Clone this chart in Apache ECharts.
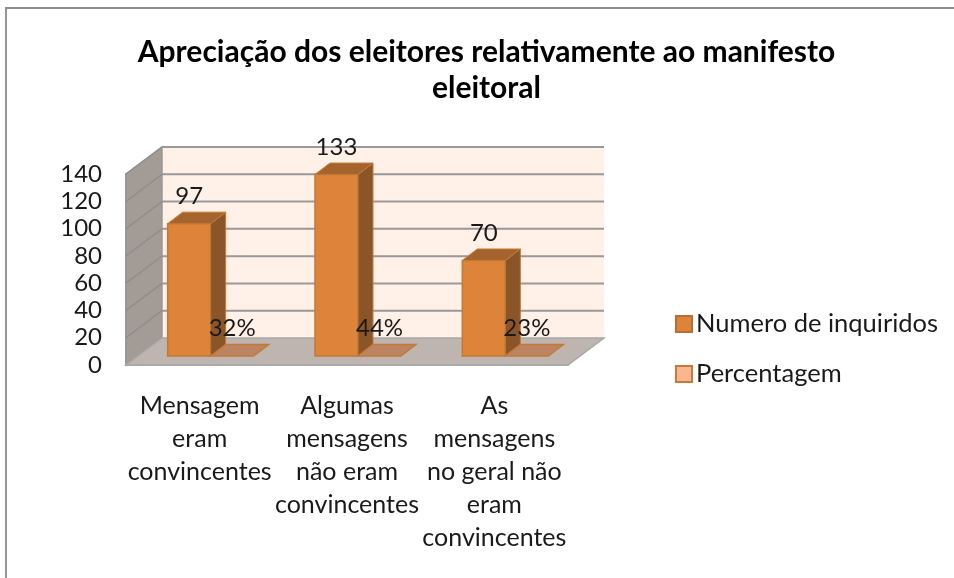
<!DOCTYPE html>
<html>
<head>
<meta charset="utf-8">
<title>Apreciação dos eleitores</title>
<script src="https://cdn.jsdelivr.net/npm/echarts@6/dist/echarts.min.js"></script>
<style>
html, body { margin: 0; padding: 0; background: #fff; }
#chart { width: 954px; height: 578px; }
</style>
</head>
<body>
<div id="chart"></div>
<script>
var titleText = 'Apreciação dos eleitores relativamente ao manifesto\neleitoral';
var categories = ['Mensagem\neram\nconvincentes', 'Algumas\nmensagens\nnão eram\nconvincentes', 'As\nmensagens\nno geral não\neram\nconvincentes'];
var inquiridos = [97, 133, 70];
var percentagem = [0.32, 0.44, 0.23];
var yTicks = [0, 20, 40, 60, 80, 100, 120, 140];
var seriesNames = ['Numero de inquiridos', 'Percentagem'];

// profundidade do "3D" em pixeis
var WALL_DX = 36, WALL_DY = 27;
var BAR_SHIFT_X = 11, BAR_SHIFT_Y = 9;
var BAR_DX = 15, BAR_DY = 11.5;
var BAR_RATIO = 43 / 147.3;
var FONT = 'Lato, "Noto Sans", sans-serif';

function poly(points, fill, stroke, width) {
    return {
        type: 'polygon',
        shape: { points: points },
        style: { fill: fill, stroke: stroke || null, lineWidth: width || 0 }
    };
}

function line(x1, y1, x2, y2, color, width) {
    return {
        type: 'line',
        shape: { x1: x1, y1: y1, x2: x2, y2: y2 },
        style: { stroke: color, lineWidth: width }
    };
}

function renderWalls(params, api) {
    var band = api.size([1, 0])[0];
    var left = api.coord([0, 0])[0] - band / 2;
    var right = api.coord([categories.length - 1, 0])[0] + band / 2;
    var y0 = api.coord([0, yTicks[0]])[1];
    var yTop = api.coord([0, yTicks[yTicks.length - 1]])[1];
    var children = [
        poly([[left + WALL_DX, yTop - WALL_DY], [right + WALL_DX, yTop - WALL_DY], [right + WALL_DX, y0 - WALL_DY], [left + WALL_DX, y0 - WALL_DY]], '#fff0e8'),
        poly([[left, yTop], [left + WALL_DX, yTop - WALL_DY], [left + WALL_DX, y0 - WALL_DY], [left, y0]], '#a39b96', '#999999', 1.5),
        poly([[left, y0], [left + WALL_DX, y0 - WALL_DY], [right + WALL_DX, y0 - WALL_DY], [right, y0]], '#bfb5b0', '#a8a8a8', 1.5)
    ];
    yTicks.forEach(function (t) {
        var y = api.coord([0, t])[1];
        if (t > 0) {
            children.push(line(left + WALL_DX, y - WALL_DY, right + WALL_DX, y - WALL_DY, '#999999', 2));
            children.push(line(left, y, left + WALL_DX, y - WALL_DY, '#8f8f8f', 1.5));
        }
    });
    return { type: 'group', children: children };
}

function renderBar(slot, labelOf) {
    return function (params, api) {
        var idx = api.value(0);
        var value = api.value(1);
        var band = api.size([1, 0])[0];
        var w = band * BAR_RATIO;
        var cx = api.coord([idx, 0])[0] + BAR_SHIFT_X;
        var x1 = cx - w + slot * w;
        var x2 = x1 + w;
        var yb = api.coord([idx, 0])[1] - BAR_SHIFT_Y;
        var yt = api.coord([idx, value])[1] - BAR_SHIFT_Y;
        var edge = '#c47a35';
        var children;
        if (slot === 0) {
            children = [
                poly([[x1, yt], [x2, yt], [x2, yb], [x1, yb]], '#dd843a', edge, 1.5),
                poly([[x2, yt], [x2 + BAR_DX, yt - BAR_DY], [x2 + BAR_DX, yb - BAR_DY], [x2, yb]], '#8a5528', edge, 1),
                poly([[x1, yt], [x1 + BAR_DX, yt - BAR_DY], [x2 + BAR_DX, yt - BAR_DY], [x2, yt]], '#a5642d', edge, 1)
            ];
        } else {
            children = [
                poly([[x1, yb], [x1 + BAR_DX, yb - BAR_DY], [x2 + BAR_DX, yb - BAR_DY], [x2, yb]], '#bd8463', edge, 1.5)
            ];
        }
        children.push({
            type: 'text',
            z2: 10,
            style: {
                x: (x1 + x2) / 2,
                y: yt - 27,
                text: labelOf(value),
                fill: '#1a1a1a',
                font: '24px ' + FONT,
                align: 'center',
                verticalAlign: 'middle'
            }
        });
        return { type: 'group', children: children };
    };
}

var chart = echarts.init(document.getElementById('chart'));
var option = {
    animation: false,
    backgroundColor: '#ffffff',
    title: {
        text: titleText,
        left: 481.5,
        top: 29,
        textAlign: 'center',
        textStyle: { fontFamily: FONT, fontSize: 30, fontWeight: 'bold', color: '#000000', lineHeight: 36 }
    },
    grid: { left: 126, top: 174, width: 442, height: 191, containLabel: false },
    legend: {
        orient: 'vertical',
        left: 670,
        top: 306,
        itemWidth: 16,
        itemHeight: 16,
        itemGap: 24,
        icon: 'rect',
        textStyle: { fontFamily: FONT, fontSize: 25.5, color: '#1a1a1a', padding: [0, 0, 0, -1] },
        data: seriesNames
    },
    xAxis: {
        type: 'category',
        data: categories,
        axisTick: { show: false },
        axisLine: { show: true, lineStyle: { color: '#a8a8a8', width: 2 } },
        axisLabel: { interval: 0, margin: 24, fontFamily: FONT, fontSize: 25, lineHeight: 33, color: '#1a1a1a' }
    },
    yAxis: {
        type: 'value',
        min: 0,
        max: 140,
        interval: 20,
        axisTick: { show: false },
        splitLine: { show: false },
        axisLine: { show: true, lineStyle: { color: '#999999', width: 2 } },
        axisLabel: { margin: 24, padding: [2, 0, 0, 0], fontFamily: FONT, fontSize: 24, color: '#1a1a1a' }
    },
    series: [{
        type: 'custom',
        name: 'paredes',
        silent: true,
        z: 1,
        clip: false,
        renderItem: renderWalls,
        data: [[0, 0]]
    }, {
        type: 'custom',
        name: seriesNames[0],
        z: 2,
        clip: false,
        itemStyle: { color: '#dd843a', borderColor: '#b96f30', borderWidth: 2 },
        renderItem: renderBar(0, function (v) { return String(v); }),
        encode: { x: 0, y: 1 },
        data: inquiridos.map(function (v, i) { return [i, v]; })
    }, {
        type: 'custom',
        name: seriesNames[1],
        z: 3,
        clip: false,
        itemStyle: { color: '#fbb68e', borderColor: '#c57a3a', borderWidth: 2 },
        renderItem: renderBar(1, function (v) { return Math.round(v * 100) + '%'; }),
        encode: { x: 0, y: 1 },
        data: percentagem.map(function (v, i) { return [i, v]; })
    }],
    graphic: [
        { type: 'line', shape: { x1: 6, y1: 8, x2: 6, y2: 578 }, style: { stroke: '#969696', lineWidth: 2 } },
        { type: 'line', shape: { x1: 5, y1: 8, x2: 954, y2: 8 }, style: { stroke: '#8c8c8c', lineWidth: 2 } }
    ]
};
chart.setOption(option);
</script>
</body>
</html>
